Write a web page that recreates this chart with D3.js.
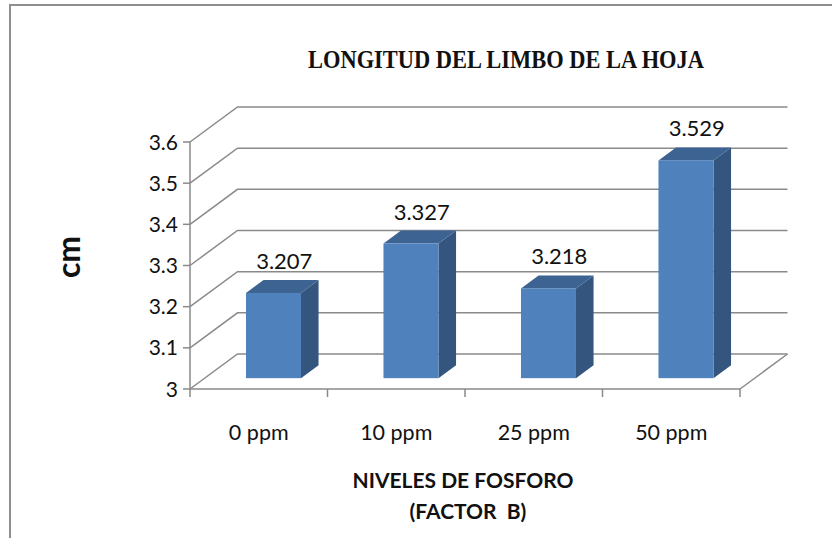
<!DOCTYPE html>
<html>
<head>
<meta charset="utf-8">
<script src="https://cdn.jsdelivr.net/npm/d3@7"></script>
<style>
  html, body { margin: 0; padding: 0; background: #fff; }
  svg { display: block; }
</style>
</head>
<body>
<svg id="chart" width="832" height="538"></svg>
<script>
// Leaf blade length by phosphorus level
const categories = ["0 ppm", "10 ppm", "25 ppm", "50 ppm"];
const values = [3.207, 3.327, 3.218, 3.529];
const yTicks = [3, 3.1, 3.2, 3.3, 3.4, 3.5, 3.6];
const title = "LONGITUD DEL LIMBO DE LA HOJA";
const yTitle = "cm";
const xTitleLines = ["NIVELES DE FOSFORO", "(FACTOR  B)"];

const svg = d3.select("#chart");
const W = 832, H = 538;

// front plane of the 3D plot box
const x0 = 190, x1 = 740, yTop = 142, yBot = 389;
// depth vector of the box (oblique projection)
const depth = { dx: 47.5, dy: -35 };
// bar occupies this slice of the depth
const f0 = 0.31, f1 = 0.68;

const x = d3.scaleBand().domain(categories).range([x0, x1]).padding(0);
const y = d3.scaleLinear().domain([3, 3.6]).range([yBot, yTop]);

const gridColor = "#8a8a8a";
const font = "Lato, 'Open Sans', sans-serif";

// outer frame
svg.append("path")
  .attr("d", `M10,${H + 2} L10,5 L${W + 2},5`)
  .attr("fill", "none").attr("stroke", "#8f8f8f").attr("stroke-width", 2);

// title
svg.append("text")
  .attr("x", 506).attr("y", 68)
  .attr("text-anchor", "middle")
  .attr("font-family", "'Liberation Serif', serif")
  .attr("font-weight", "bold")
  .attr("font-size", 24.5)
  .attr("textLength", 396)
  .attr("lengthAdjust", "spacingAndGlyphs")
  .attr("fill", "#111")
  .text(title);

const grid = svg.append("g").attr("fill", "none").attr("stroke", gridColor).attr("stroke-width", 1.5);

// side wall + back wall gridlines
yTicks.forEach(v => {
  const yy = y(v);
  grid.append("path")
    .attr("d", `M${x0},${yy} L${x0 + depth.dx},${yy + depth.dy} L${x1 + depth.dx},${yy + depth.dy}`);
});
// floor: right edge
grid.append("path")
  .attr("d", `M${x1},${yBot} L${x1 + depth.dx},${yBot + depth.dy}`);

// value axis (front left edge) with ticks
const axisG = svg.append("g").attr("stroke", gridColor).attr("stroke-width", 1.5).attr("fill", "none");
axisG.append("line").attr("x1", x0).attr("x2", x0).attr("y1", yTop).attr("y2", yBot);
yTicks.forEach(v => {
  axisG.append("line").attr("x1", x0 - 7).attr("x2", x0).attr("y1", y(v)).attr("y2", y(v));
});
// category axis (front bottom edge) with ticks at band boundaries
axisG.append("line").attr("x1", x0).attr("x2", x1).attr("y1", yBot).attr("y2", yBot);
const bounds = categories.map(c => x(c)).concat([x1]);
bounds.forEach(b => {
  axisG.append("line").attr("x1", b).attr("x2", b).attr("y1", yBot).attr("y2", yBot + 8);
});

// y tick labels
svg.append("g").selectAll("text").data(yTicks).join("text")
  .attr("x", x0 - 12).attr("y", d => y(d))
  .attr("dy", "0.36em")
  .attr("text-anchor", "end")
  .attr("font-family", font).attr("font-size", 21).attr("fill", "#111")
  .text(d => d3.format("")(d));

// category labels
svg.append("g").selectAll("text").data(categories).join("text")
  .attr("x", d => x(d) + x.bandwidth() / 2)
  .attr("y", 440)
  .attr("text-anchor", "middle")
  .attr("font-family", font).attr("font-size", 21.5).attr("fill", "#111")
  .text(d => d);

// 3D bars
const barW = x.bandwidth() * 0.4;
const bars = svg.append("g");
categories.forEach((c, i) => {
  const v = values[i];
  const ox = depth.dx * f0, oy = depth.dy * f0;
  const bx = depth.dx * (f1 - f0), by = depth.dy * (f1 - f0);
  const left = x(c) + x.bandwidth() / 2 - barW / 2 + ox;
  const right = left + barW;
  const top = y(v) + oy;
  const bottom = y(3) + oy;
  // side face
  bars.append("path")
    .attr("d", `M${right},${bottom} L${right + bx},${bottom + by} L${right + bx},${top + by} L${right},${top} Z`)
    .attr("fill", "#34557d");
  // top face
  bars.append("path")
    .attr("d", `M${left},${top} L${left + bx},${top + by} L${right + bx},${top + by} L${right},${top} Z`)
    .attr("fill", "#3d6393");
  // front face
  bars.append("rect")
    .attr("x", left).attr("y", top).attr("width", barW).attr("height", bottom - top)
    .attr("fill", "#4f81bd");
  // value label
  bars.append("text")
    .attr("x", left + barW / 2 + bx / 2 + 2)
    .attr("y", top + by - 11)
    .attr("text-anchor", "middle")
    .attr("font-family", font).attr("font-size", 22).attr("fill", "#111")
    .text(d3.format(".3f")(v));
});

// axis titles
svg.append("text")
  .attr("transform", "translate(80,257) rotate(-90)")
  .attr("text-anchor", "middle")
  .attr("font-family", font).attr("font-weight", "bold").attr("font-size", 32).attr("fill", "#111")
  .text(yTitle);

const xt = svg.append("text")
  .attr("text-anchor", "middle")
  .attr("font-family", font).attr("font-weight", "bold").attr("font-size", 21).attr("fill", "#111")
  .style("white-space", "pre");
xt.append("tspan").attr("x", 463).attr("y", 488).text(xTitleLines[0]);
xt.append("tspan").attr("x", 468).attr("y", 519).text(xTitleLines[1]);
</script>
</body>
</html>
